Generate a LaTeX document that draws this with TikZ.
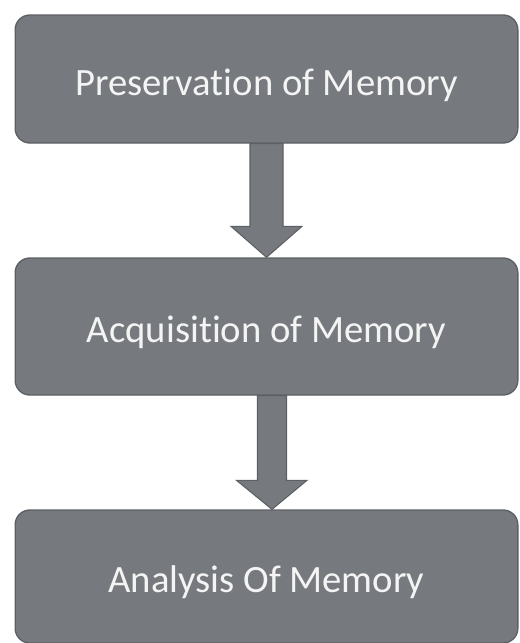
\documentclass[tikz,border=0pt]{standalone}
\usepackage{fontspec}
\setmainfont{Carlito}[Ligatures={NoCommon}]
\usetikzlibrary{calc}
\definecolor{boxgray}{RGB}{118,121,125}
\definecolor{edgegray}{RGB}{92,95,99}
\definecolor{textwhite}{RGB}{244,244,244}

\begin{document}
\begin{tikzpicture}[x=0.75pt,y=-0.75pt,
    stage/.style={draw=edgegray,line width=1pt,fill=boxgray,rounded corners=11pt,
      minimum width=377pt,inner sep=0pt,text=textwhite,
      font=\fontsize{29}{33}\selectfont,text height=26pt,text depth=2pt},
    flow/.style={draw=edgegray,line width=0.8pt,fill=boxgray,line join=miter}]
    \useasboundingbox (0,0) rectangle (519,643);

    \node[stage,minimum height=96pt](pres) at (266.5,79) {Preservation of Memory};
    \node[stage,minimum height=102.75pt](acq) at (266.5,326.5) {Acquisition of Memory};
    \node[stage,minimum height=99.75pt](anal) at (266.5,576.5) {Analysis Of Memory};

    % block arrows
    \draw[flow]($(pres.south)+(-16.5,0)$)--($(pres.south)+(16.5,0)$)
      --($(acq.north)+(16.5,-31)$)--($(acq.north)+(35.5,-31)$)--(acq.north)
      --($(acq.north)+(-35.5,-31)$)--($(acq.north)+(-16.5,-31)$)--cycle;
    \draw[flow]($(acq.south)+(-9,0)$)--($(acq.south)+(20,0)$)
      --($(anal.north)+(20,-29)$)--($(anal.north)+(40.5,-29)$)--($(anal.north)+(5.5,0)$)
      --($(anal.north)+(-30,-29)$)--($(anal.north)+(-9,-29)$)--cycle;
  \end{tikzpicture}
\end{document}
